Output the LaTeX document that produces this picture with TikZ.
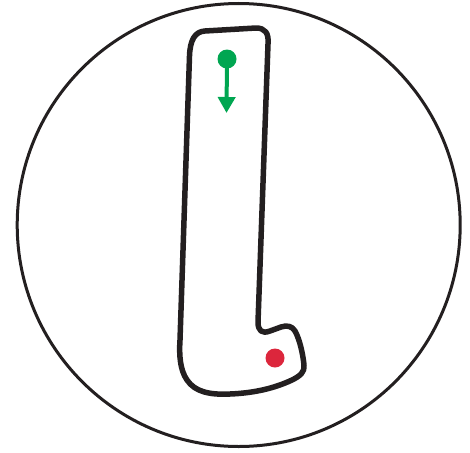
\documentclass[tikz,border=0pt]{standalone}
\usetikzlibrary{arrows.meta}
\definecolor{ink}{RGB}{35,31,32}
\definecolor{startgreen}{RGB}{0,166,81}
\definecolor{endred}{RGB}{220,38,60}
\tikzset{
  frame/.style={draw=ink, line width=3pt},
  letter/.style={draw=ink, line width=5.5pt, line join=round},
  dotstyle/.style={circle, inner sep=0pt, minimum size=19pt},
  dirarrow/.style={draw=startgreen, line width=4pt, -{Triangle[length=16pt,width=17pt]}}
}
\begin{document}
\begin{tikzpicture}[x=1pt,y=-1pt]
\useasboundingbox (0,0) rectangle (470,452);
\node[frame, circle, minimum size=443pt, inner sep=0pt] (ring) at (238.7,225) {};
\draw[letter] (205,31) -- (256,28) .. controls (265,28) and (269,33) .. (268,44)
  -- (258,322) .. controls (258,331) and (262,334) .. (270,331)
  -- (281,327) .. controls (287,325) and (292,326) .. (295,331)
  .. controls (300,340) and (303,355) .. (304,365)
  .. controls (305,372) and (300,376) .. (292,380)
  .. controls (275,388) and (255,393) .. (230,394)
  .. controls (210,395) and (195,392) .. (187,380)
  .. controls (180,370) and (179,355) .. (180,340)
  -- (189.5,56) .. controls (190,40) and (195,31.5) .. (205,31) -- cycle;
\node[dotstyle, fill=startgreen] (start) at (227,59) {};
\coordinate (tip) at (226.5,113);
\draw[dirarrow] (start.center) -- (tip);
\node[dotstyle, fill=endred] (finish) at (275,358) {};
\end{tikzpicture}
\end{document}
